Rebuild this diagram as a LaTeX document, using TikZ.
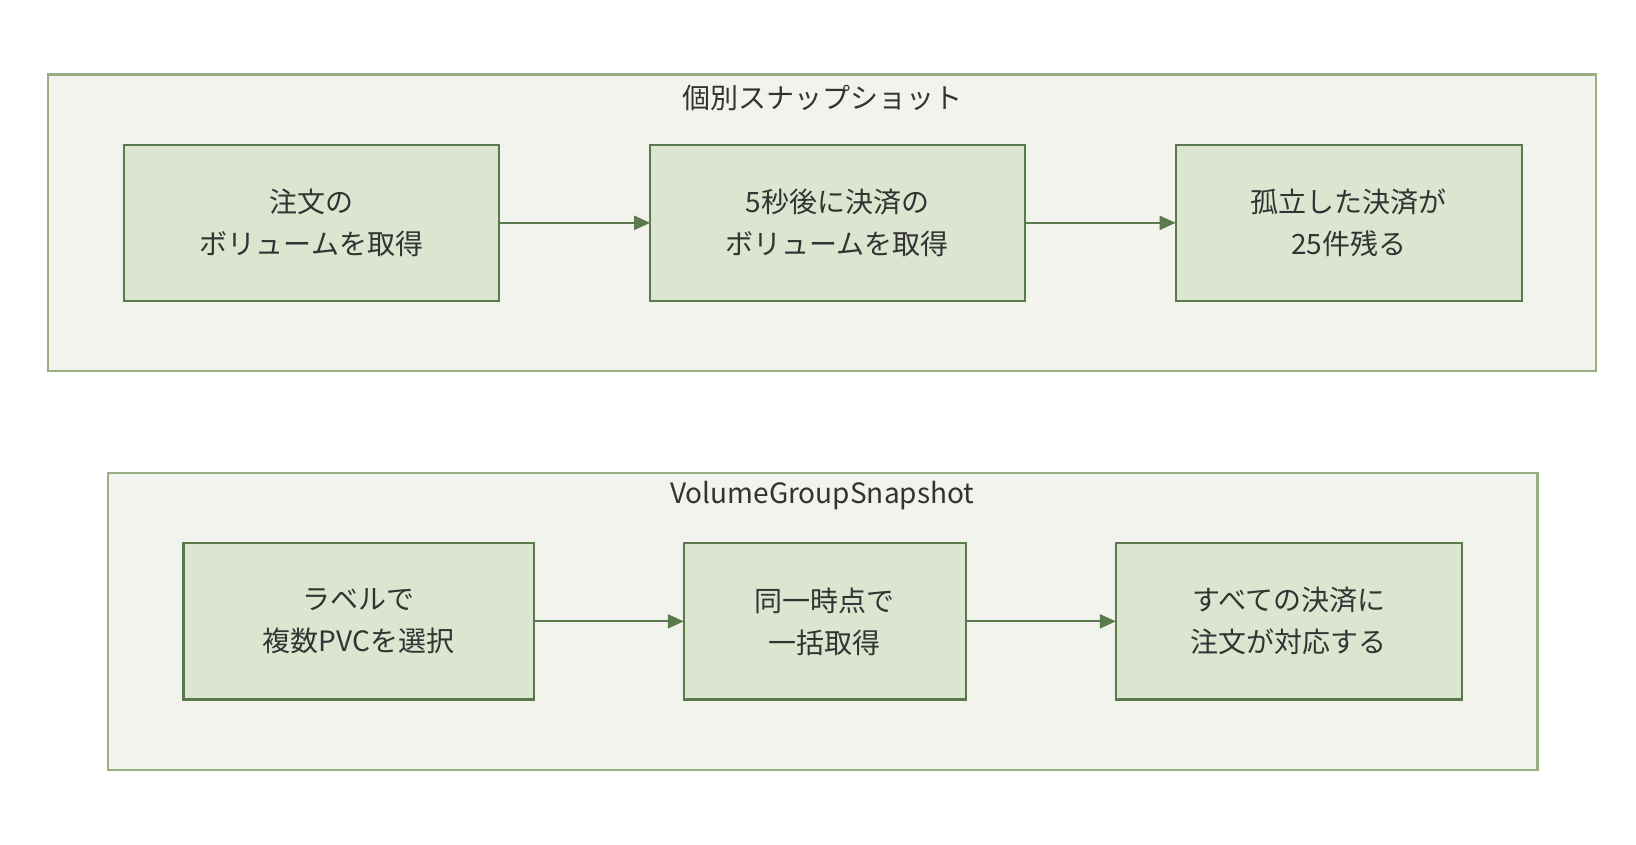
\documentclass[tikz,border=0pt]{standalone}
\usepackage{fontspec}
\setmainfont{Noto Sans CJK JP}
\usetikzlibrary{arrows.meta}
\definecolor{cfill}{HTML}{F2F3EC}
\definecolor{cbord}{HTML}{9AAE86}
\definecolor{bfill}{HTML}{DCE5D0}
\definecolor{bbord}{HTML}{5A7A4E}
\definecolor{txt}{HTML}{333333}
\begin{document}
\begin{tikzpicture}[x=0.5244pt,y=-0.5244pt,
  cont/.style={draw=cbord,fill=cfill,line width=1.1pt},
  box/.style={draw=bbord,fill=bfill,line width=1.1pt},
  lbl/.style={text=txt,font=\fontsize{14}{21}\selectfont,align=center},
  arr/.style={draw=bbord,line width=1.1pt,-{Triangle[length=8pt,width=7pt]}}]
\useasboundingbox (0,0) rectangle (1560,805);
\fill[white] (0,0) rectangle (1560,805);
\draw[cont] (46,71) rectangle (1522,354);
\node[lbl] (t1) at (784,93) {個別スナップショット};
\draw[box] (118,138) rectangle (476,287); \node[lbl] (a1) at (297,212.5) {注文の\\ボリュームを取得};
\draw[box] (620,138) rectangle (977,287); \node[lbl] (a2) at (798.5,212.5) {5秒後に決済の\\ボリュームを取得};
\draw[box] (1121,138) rectangle (1451,287); \node[lbl] (a3) at (1286,212.5) {孤立した決済が\\25件残る};
\coordinate (a1e) at (476,212.5); \coordinate (a2w) at (620,212.5);
\coordinate (a2e) at (977,212.5); \coordinate (a3w) at (1121,212.5);
\draw[arr] (a1e) -- (a2w); \draw[arr] (a2e) -- (a3w);
\draw[cont] (103,451) rectangle (1466,734);
\node[lbl] (t2) at (784,473) {VolumeGroupSnapshot};
\draw[box] (175,518) rectangle (509,667); \node[lbl] (b1) at (342,592.5) {ラベルで\\複数PVCを選択};
\draw[box] (652,518) rectangle (921,667); \node[lbl] (b2) at (786.5,592.5) {同一時点で\\一括取得};
\draw[box] (1064,518) rectangle (1394,667); \node[lbl] (b3) at (1229,592.5) {すべての決済に\\注文が対応する};
\coordinate (b1e) at (509,592.5); \coordinate (b2w) at (652,592.5);
\coordinate (b2e) at (921,592.5); \coordinate (b3w) at (1064,592.5);
\draw[arr] (b1e) -- (b2w); \draw[arr] (b2e) -- (b3w);
\end{tikzpicture}
\end{document}
